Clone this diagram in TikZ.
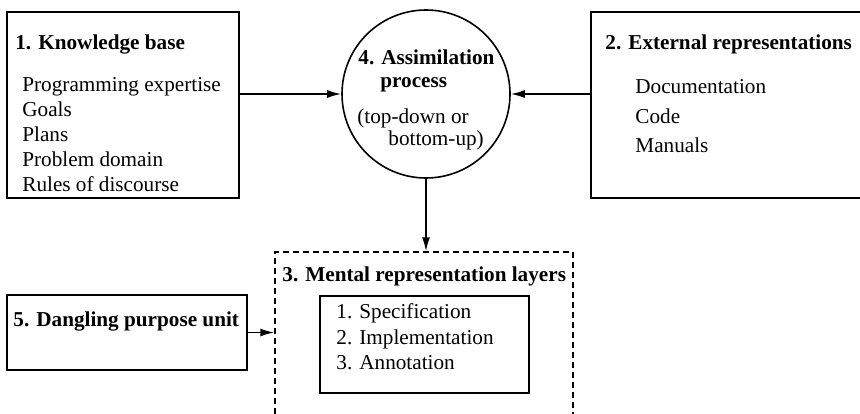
\documentclass[tikz,border=0pt]{standalone}
\usepackage{fontspec}
\setmainfont{Liberation Serif}
\usetikzlibrary{arrows.meta}

\begin{document}
\begin{tikzpicture}[
        x=0.5pt, y=-0.5pt,
        txt/.style={inner sep=0pt, align=left, font=\fontsize{10.6}{12.5}\selectfont},
        head/.style={txt, font=\fontsize{10.6}{12.5}\selectfont\bfseries, anchor=base west},
        list/.style={txt, anchor=north west},
        box/.style={draw, line width=0.8pt, inner sep=0pt},
        layer/.style={draw, line width=0.7pt, dash pattern=on 3pt off 2pt, inner sep=0pt},
        arrow/.style={line width=0.8pt, -{Latex[length=7pt, width=4pt]}}
    ]

        \clip (0,0) rectangle (860,413);

        % Blocos
        \node[box, minimum width=116pt, minimum height=93pt] (kb) at (123,105) {};
        \node[head] (kbtitle) at (15,49) {1. Knowledge base};
        \node[list] (kblist) at (22,76.6) {Programming expertise\\ Goals\\ Plans\\ Problem domain\\ Rules of discourse};

        \node[box, minimum width=136.5pt, minimum height=93pt] (ext) at (727.5,105) {};
        \node[head] (exttitle) at (605,49) {2. External representations};
        \node[list, font=\fontsize{10.6}{14.75}\selectfont] (extlist) at (635,79.5) {Documentation\\ Code\\ Manuals};

        \node[box, circle, minimum size=84pt] (asm) at (426,94) {};
        \node[list, font=\fontsize{10.6}{11.5}\selectfont\bfseries] (asmtitle) at (358,49.4) {4. Assimilation\\ \hspace*{11pt}process};
        \node[list, font=\fontsize{10.6}{11}\selectfont] (asmmode) at (357,108.4) {(top-down or\\ \hspace*{15.5pt}bottom-up)};

        \node[layer, minimum width=149pt, minimum height=94pt] (ml) at (424,346) {};
        \node[head] (mltitle) at (282,281) {3. Mental representation layers};
        \node[box, minimum width=104.5pt, minimum height=48.5pt] (mlbox) at (424.5,344.5) {};
        \node[list, font=\fontsize{10.6}{12.75}\selectfont] (mllist) at (336,303.5) {1. Specification\\ 2. Implementation\\ 3. Annotation};

        \node[box, minimum width=120pt, minimum height=37.5pt] (dp) at (127,332.5) {};
        \node[head] (dptitle) at (13,326) {5. Dangling purpose unit};

        % Setas
        \draw[arrow] (kb.east |- asm.west) -- (asm.west);
        \draw[arrow] (ext.west |- asm.east) -- (asm.east);
        \draw[arrow] (asm.south) -- (asm.south |- ml.north);
        \draw[arrow] (dp.east) -- (dp.east -| ml.west);

    \end{tikzpicture}
\end{document}
